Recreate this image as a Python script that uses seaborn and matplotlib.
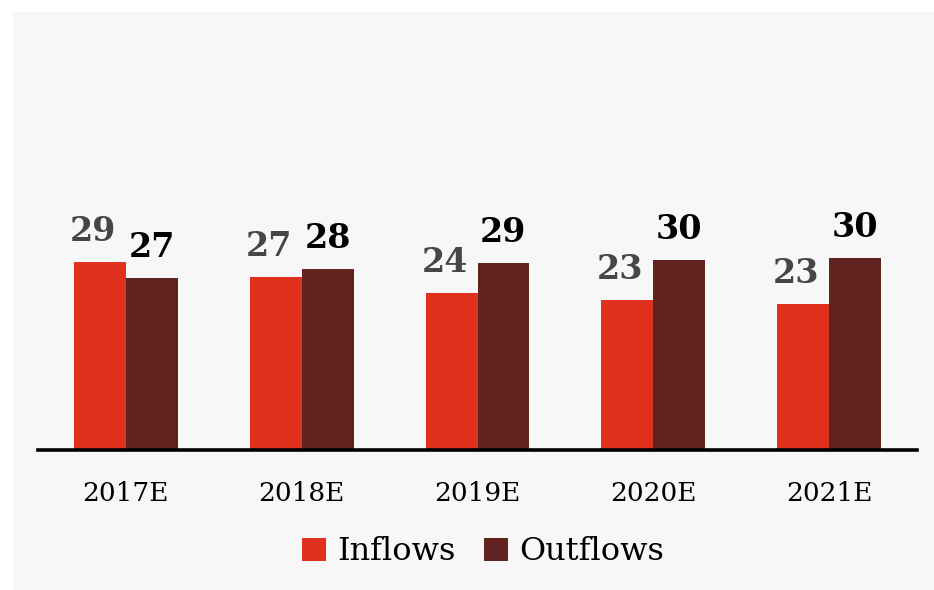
import matplotlib
matplotlib.use("Agg")
import matplotlib.pyplot as plt
import seaborn as sns
import pandas as pd

years = ["2017E", "2018E", "2019E", "2020E", "2021E"]
inflows = [29.1, 26.8, 24.4, 23.3, 22.6]
outflows = [26.7, 28.1, 29.0, 29.5, 29.8]
series = ["Inflows", "Outflows"]
colors = {"Inflows": "#e0301e", "Outflows": "#602320"}
label_colors = {"Inflows": "#464646", "Outflows": "#000000"}

df = pd.DataFrame({
    "year": years * 2,
    "value": inflows + outflows,
    "series": [series[0]] * len(years) + [series[1]] * len(years),
})

sns.set_style("white")
plt.rcParams["font.family"] = ["DejaVu Serif", "Liberation Serif"]
plt.rcParams["text.color"] = "black"

fig = plt.figure(figsize=(9.34, 5.9), dpi=100)
fig.patch.set_facecolor("white")
# light grey card behind the chart
fig.add_artist(plt.Rectangle((13 / 934, 0), 1 - 13 / 934, 1 - 12 / 590,
                             transform=fig.transFigure, facecolor="#f7f7f7",
                             edgecolor="none", zorder=-10))

ax = fig.add_axes([38 / 934, 140 / 590, 879 / 934, 400 / 590])
ax.set_facecolor("none")

sns.barplot(data=df, x="year", y="value", hue="series", hue_order=series,
            palette=colors, width=0.59, saturation=1, ax=ax, legend=False,
            edgecolor="none", linewidth=0)

for cont, name in zip(ax.containers, series):
    anns = ax.bar_label(cont, labels=[f"{v:.0f}" for v in cont.datavalues],
                        padding=10, color=label_colors[name], fontsize=24,
                        fontweight="bold")
    if name == "Inflows":
        for a in anns:
            a.xyann = (-5, 10)

ax.set_xlim(-0.5, 4.5)
ax.set_ylim(0, 62)
ax.set_xlabel("")
ax.set_ylabel("")
ax.set_yticks([])
for s in ["top", "right", "left"]:
    ax.spines[s].set_visible(False)
ax.spines["bottom"].set_linewidth(2.6)
ax.spines["bottom"].set_color("black")
ax.tick_params(axis="x", length=0, pad=22, labelsize=19, labelcolor="black")

handles = [plt.Rectangle((0, 0), 1, 1, facecolor=colors[s], edgecolor="none")
           for s in series]
leg = fig.legend(handles, series, loc="center", bbox_to_anchor=(483 / 934, 1 - 552 / 590),
                 ncol=2, frameon=False, fontsize=23, handlelength=0.75, handleheight=0.75,
                 handletextpad=0.35, columnspacing=0.9)
for t in leg.get_texts():
    t.set_color("black")

fig.savefig("out.png", dpi=100, facecolor=fig.get_facecolor())
